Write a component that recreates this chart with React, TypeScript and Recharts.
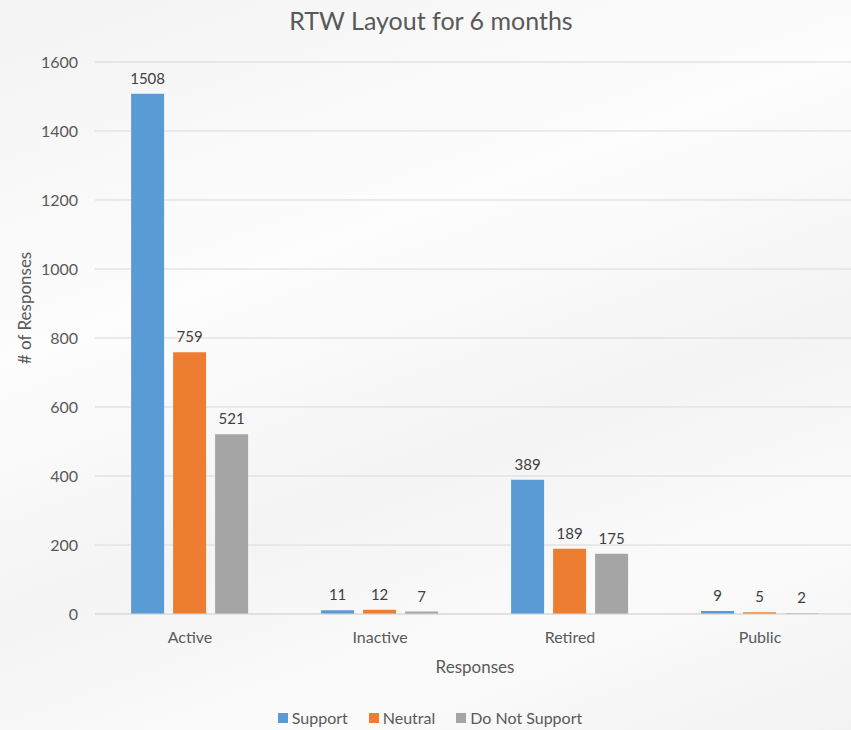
import { Bar, BarChart, CartesianGrid, LabelList, Legend, XAxis, YAxis } from 'recharts'

const categories = ['Active', 'Inactive', 'Retired', 'Public']
const supportValues = [1508, 11, 389, 9]
const neutralValues = [759, 12, 189, 5]
const notSupportValues = [521, 7, 175, 2]
const yTicks = [0, 200, 400, 600, 800, 1000, 1200, 1400, 1600]

const series = [
  { key: 'support', name: 'Support', color: '#5b9bd5' },
  { key: 'neutral', name: 'Neutral', color: '#ed7d31' },
  { key: 'notSupport', name: 'Do Not Support', color: '#a5a5a5' },
]

const data = categories.map((name, i) => ({
  name,
  support: supportValues[i],
  neutral: neutralValues[i],
  notSupport: notSupportValues[i],
}))

const font = 'Lato, "Open Sans", sans-serif'
const textGray = '#595959'

function YTitle(props: any) {
  const { viewBox } = props
  const cx = 24
  const cy = viewBox.y + viewBox.height / 2 - 30
  return (
    <text
      x={cx}
      y={cy}
      transform={`rotate(-90, ${cx}, ${cy})`}
      textAnchor="middle"
      dominantBaseline="central"
      fill={textGray}
      fontSize={17}
      fontFamily={font}
    >
      # of Responses
    </text>
  )
}

function LegendBox() {
  return (
    <div style={{ display: 'flex', justifyContent: 'center', gap: 21, fontSize: 16, color: textGray }}>
      {series.map((s) => (
        <div key={s.key} style={{ display: 'flex', alignItems: 'center' }}>
          <span style={{ width: 10, height: 10, background: s.color, marginRight: 4, display: 'inline-block' }} />
          <span>{s.name}</span>
        </div>
      ))}
    </div>
  )
}

export default function App() {
  return (
    <div
      style={{
        position: 'fixed',
        left: 0,
        top: 0,
        width: 851,
        height: 730,
        overflow: 'hidden',
        fontFamily: font,
        background:
          'linear-gradient(160deg, #f3f3f3 0%, #fdfdfd 35%, #f4f4f4 60%, #fbfbfb 80%, #f2f2f2 100%)',
      }}
    >
      <div
        style={{
          position: 'absolute',
          top: 5,
          left: 0,
          width: 862,
          textAlign: 'center',
          fontSize: 25,
          color: textGray,
        }}
      >
        RTW Layout for 6 months
      </div>
      <BarChart
        width={860}
        height={730}
        data={data}
        margin={{ top: 62, right: 5, bottom: 24, left: 0 }}
        barCategoryGap="19%"
        barGap={9}
      >
        <CartesianGrid vertical={false} stroke="#d9d9d9" />
        <XAxis
          dataKey="name"
          axisLine={{ stroke: '#d9d9d9' }}
          tickLine={false}
          tickMargin={12}
          height={70}
          tick={{ fill: textGray, fontSize: 16, fontFamily: font }}
          label={{
            value: 'Responses',
            position: 'insideBottom',
            offset: 11,
            fill: textGray,
            fontSize: 17,
            fontFamily: font,
          }}
        />
        <YAxis
          domain={[0, 1600]}
          ticks={yTicks}
          axisLine={false}
          tickLine={false}
          tickSize={0}
          tickMargin={17}
          width={95}
          tick={{ fill: textGray, fontSize: 16, fontFamily: font }}
          label={<YTitle />}
        />
        <Legend
          verticalAlign="bottom"
          content={<LegendBox />}
          wrapperStyle={{ top: 708, bottom: 'auto', left: 0, width: 860, height: 22 }}
        />
        {series.map((s) => (
          <Bar key={s.key} dataKey={s.key} name={s.name} fill={s.color} isAnimationActive={false}>
            <LabelList dataKey={s.key} position="top" offset={10} fill="#404040" fontSize={15} fontFamily={font} />
          </Bar>
        ))}
      </BarChart>
    </div>
  )
}
